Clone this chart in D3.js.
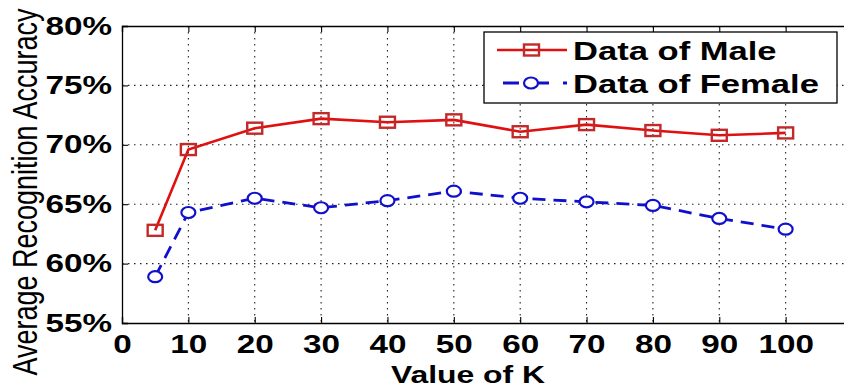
<!DOCTYPE html>
<html>
<head>
<meta charset="utf-8">
<script src="https://cdn.jsdelivr.net/npm/d3@7"></script>
<style>
  body { margin: 0; background: #fff; }
  svg { display: block; font-family: "Liberation Sans", Arial, sans-serif; }
</style>
</head>
<body>
<div id="chart"></div>
<script>
// values
const kValues = [5, 10, 20, 30, 40, 50, 60, 70, 80, 90, 100];
const maleAcc = [62.8, 69.6, 71.4, 72.2, 71.9, 72.1, 71.1, 71.7, 71.2, 70.8, 71.0];
const femaleAcc = [58.9, 64.3, 65.5, 64.7, 65.3, 66.1, 65.5, 65.2, 64.9, 63.8, 62.9];
const xTicks = [0, 10, 20, 30, 40, 50, 60, 70, 80, 90, 100, 110];
const xTickLabels = ["0", "10", "20", "30", "40", "50", "60", "70", "80", "90", "100", ""];
const yTicks = [55, 60, 65, 70, 75, 80];
const seriesNames = ["Data of Male", "Data of Female"];

// the source picture is stretched sideways, text too
const stretch = 1.33;

const W = 844, H = 388;
const margin = { top: 26, left: 122 };
const width = 730;   // right edge falls outside the picture
const height = 297;

const svg = d3.select("#chart").append("svg")
  .attr("width", W).attr("height", H);

const g = svg.append("g")
  .attr("transform", `translate(${margin.left},${margin.top})`);

const x = d3.scaleLinear().domain([0, 110]).range([0, width]);
const y = d3.scaleLinear().domain([55, 80]).range([height, 0]);

// dotted grid
g.append("g")
  .selectAll("line.vgrid")
  .data(xTicks.filter(d => d > 0))
  .enter().append("line")
  .attr("x1", d => x(d)).attr("x2", d => x(d))
  .attr("y1", 0).attr("y2", height)
  .attr("stroke", "#222").attr("stroke-width", 1.1)
  .attr("stroke-dasharray", "1.5,4.5");

g.append("g")
  .selectAll("line.hgrid")
  .data(yTicks.filter(d => d > 55 && d < 80))
  .enter().append("line")
  .attr("x1", 0).attr("x2", width)
  .attr("y1", d => y(d)).attr("y2", d => y(d))
  .attr("stroke", "#222").attr("stroke-width", 1.1)
  .attr("stroke-dasharray", "1.5,4.5");

// axes, ticks pointing inward
const xAxis = g.append("g")
  .attr("transform", `translate(0,${height})`)
  .call(d3.axisBottom(x).tickValues(xTicks).tickSize(-6).tickPadding(12)
    .tickFormat((d, i) => xTickLabels[i]));

const topAxis = g.append("g")
  .call(d3.axisTop(x).tickValues(xTicks).tickSize(-6).tickFormat(""));

const yAxis = g.append("g")
  .call(d3.axisLeft(y).tickValues(yTicks).tickSize(-6).tickPadding(10).tickFormat(d => d + "%"));

[xAxis, topAxis, yAxis].forEach(a => {
  a.select(".domain").attr("stroke", "#000").attr("stroke-width", 1.3);
  a.selectAll(".tick line").attr("stroke", "#000").attr("stroke-width", 1.1);
});

xAxis.selectAll("text")
  .attr("fill", "#000")
  .style("font-size", "25px").style("font-weight", "bold")
  .attr("dy", "0.72em")
  .attr("transform", `scale(${stretch},1)`);

yAxis.selectAll("text")
  .attr("fill", "#000")
  .style("font-size", "25px").style("font-weight", "bold")
  .attr("x", -10 / stretch)
  .attr("transform", `scale(${stretch},1)`);

// male series
const line = d3.line()
  .x((d, i) => x(kValues[i]))
  .y(d => y(d));

g.append("path")
  .datum(maleAcc)
  .attr("d", line)
  .attr("fill", "none")
  .attr("stroke", "#e01010")
  .attr("stroke-width", 2.6);

g.selectAll("rect.male")
  .data(maleAcc)
  .enter().append("rect")
  .attr("x", (d, i) => x(kValues[i]) - 7.5)
  .attr("y", d => y(d) - 5.5)
  .attr("width", 15).attr("height", 11)
  .attr("fill", "none")
  .attr("stroke", "#c22a2a").attr("stroke-width", 2.4);

// female series
g.append("path")
  .datum(femaleAcc)
  .attr("d", line)
  .attr("fill", "none")
  .attr("stroke", "#1010cc")
  .attr("stroke-width", 2.8)
  .attr("stroke-dasharray", "13,8");

g.selectAll("ellipse.female")
  .data(femaleAcc)
  .enter().append("ellipse")
  .attr("cx", (d, i) => x(kValues[i]))
  .attr("cy", d => y(d))
  .attr("rx", 7).attr("ry", 5.5)
  .attr("fill", "#fff")
  .attr("stroke", "#1010cc").attr("stroke-width", 2.2);

// legend
const legend = svg.append("g");
legend.append("rect")
  .attr("x", 484).attr("y", 32)
  .attr("width", 353).attr("height", 71)
  .attr("fill", "#fff").attr("stroke", "#000").attr("stroke-width", 1.3);

legend.append("line")
  .attr("x1", 497).attr("x2", 567).attr("y1", 50).attr("y2", 50)
  .attr("stroke", "#e01010").attr("stroke-width", 2.6);
legend.append("rect")
  .attr("x", 524).attr("y", 44.5).attr("width", 15).attr("height", 11)
  .attr("fill", "none").attr("stroke", "#c22a2a").attr("stroke-width", 2.4);

legend.append("line")
  .attr("x1", 503).attr("x2", 567).attr("y1", 83).attr("y2", 83)
  .attr("stroke", "#1010cc").attr("stroke-width", 2.8)
  .attr("stroke-dasharray", "16,14");
legend.append("ellipse")
  .attr("cx", 531).attr("cy", 83).attr("rx", 7).attr("ry", 5.5)
  .attr("fill", "#fff").attr("stroke", "#1010cc").attr("stroke-width", 2.2);

legend.selectAll("text.leg")
  .data(seriesNames)
  .enter().append("text")
  .attr("transform", (d, i) => `translate(573,${60 + i * 33}) scale(${stretch},1)`)
  .style("font-size", "26px").style("font-weight", "bold")
  .attr("fill", "#000")
  .text(d => d);

// axis titles
svg.append("text")
  .attr("transform", `translate(468,383) scale(${stretch},1)`)
  .attr("text-anchor", "middle")
  .style("font-size", "24px").style("font-weight", "bold")
  .text("Value of K");

svg.append("text")
  .attr("transform", `translate(37,192) scale(${stretch},1) rotate(-90)`)
  .attr("text-anchor", "middle")
  .style("font-size", "27px")
  .text("Average Recognition Accuracy");
</script>
</body>
</html>
